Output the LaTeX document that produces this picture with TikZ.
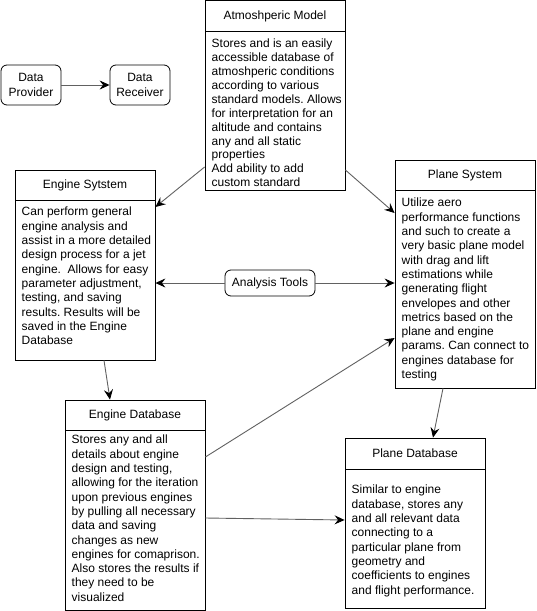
\documentclass[tikz,border=0pt]{standalone}
\usepackage{fontspec}
\setmainfont{Liberation Sans}
\usetikzlibrary{arrows.meta}
\frenchspacing
\begin{document}
\begin{tikzpicture}[x=1pt,y=-1pt,
  every node/.style={font=\fontsize{12}{14.3}\selectfont, text=black},
  box/.style={draw=black, line width=0.8pt, rectangle, inner sep=0pt, fill=white},
  rbox/.style={draw=black, line width=0.8pt, rectangle, rounded corners=6pt, inner sep=0pt, fill=white, align=center},
  bodytext/.style={anchor=north west, inner sep=0pt, align=left},
  link/.style={draw=black!62, line width=0.9pt, -{Stealth[length=10pt,width=9pt,inset=3.5pt,color=black]}}
]
\useasboundingbox (0,0) rectangle (536,611);
\fill[white] (0,0) rectangle (536,611);

% data flow legend
\node[rbox, minimum width=60pt, minimum height=40pt] (prov) at (31,85) {Data\\Provider};
\node[rbox, minimum width=60pt, minimum height=40pt] (recv) at (140,85) {Data\\Receiver};

% atmospheric model
\node[box, minimum width=140pt, minimum height=31pt] (atmhead) at (275,16) {Atmoshperic Model};
\node[box, minimum width=140pt, minimum height=159pt] (atmbody) at (275,110.5) {};
\node[bodytext, font=\fontsize{12}{13.95}\selectfont] (atmtext) at (211.5,38.5) {Stores and is an easily\\accessible database of\\atmoshperic conditions\\according to various\\standard models. Allows\\for interpretation for an\\altitude and contains\\any and all static\\properties\\Add ability to add\\custom standard};

% engine system
\node[box, minimum width=140pt, minimum height=30pt] (enghead) at (85,185) {Engine Sytstem};
\node[box, minimum width=140pt, minimum height=160pt] (engbody) at (85,280) {};
\node[bodytext] (engtext) at (21.5,207) {Can perform general\\engine analysis and\\assist in a more detailed\\design process for a jet\\engine.\ \ Allows for easy\\parameter adjustment,\\testing, and saving\\results. Results will be\\saved in the Engine\\Database};

% plane system
\node[box, minimum width=140pt, minimum height=30pt] (planehead) at (465,175) {Plane System};
\node[box, minimum width=140pt, minimum height=198pt] (planebody) at (465,289) {};
\node[bodytext] (planetext) at (401.5,198) {Utilize aero\\performance functions\\and such to create a\\very basic plane model\\with drag and lift\\estimations while\\generating flight\\envelopes and other\\metrics based on the\\plane and engine\\params. Can connect to\\engines database for\\testing};

% engine database
\node[box, minimum width=140pt, minimum height=30pt] (edbhead) at (135,415) {Engine Database};
\node[box, minimum width=140pt, minimum height=180pt] (edbbody) at (135,520) {};
\node[bodytext] (edbtext) at (71.5,435) {Stores any and all\\details about engine\\design and testing,\\allowing for the iteration\\upon previous engines\\by pulling all necessary\\data and saving\\changes as new\\engines for comaprison.\\Also stores the results if\\they need to be\\visualized};

% plane database
\node[box, minimum width=140pt, minimum height=31pt] (pdbhead) at (415,453.5) {Plane Database};
\node[box, minimum width=140pt, minimum height=139pt] (pdbbody) at (415,538.5) {};
\node[bodytext] (pdbtext) at (351.5,485) {Similar to engine\\database, stores any\\and all relevant data\\connecting to a\\particular plane from\\geometry and\\coefficients to engines\\and flight performance.};

% connectors
\draw[link] (prov.east) -- (recv.west);
\draw[link] ([yshift=-56.5pt]atmbody.west) -- ([yshift=73pt]engbody.east);
\draw[link] ([yshift=-59.5pt]atmbody.east) -- ([yshift=76pt]planebody.west);
\draw[link] ([xshift=19pt]engbody.south) -- ([xshift=-25pt]edbhead.north);
\draw[link] ([yshift=63pt]edbbody.east) -- ([yshift=-49pt]planebody.west);
\draw[link] ([yshift=2pt]edbbody.east) -- ([yshift=18.5pt]pdbbody.west);
\draw[link] ([xshift=-22pt]planebody.south) -- ([xshift=18pt]pdbhead.north);

% analysis tools on the shared link
\node[rbox, minimum width=90pt, minimum height=26pt] (tools) at (270,283) {Analysis Tools};
\draw[link] (tools.west) -- ([yshift=-3pt]engbody.east);
\draw[link] (tools.east) -- ([yshift=6pt]planebody.west);
\end{tikzpicture}
\end{document}
